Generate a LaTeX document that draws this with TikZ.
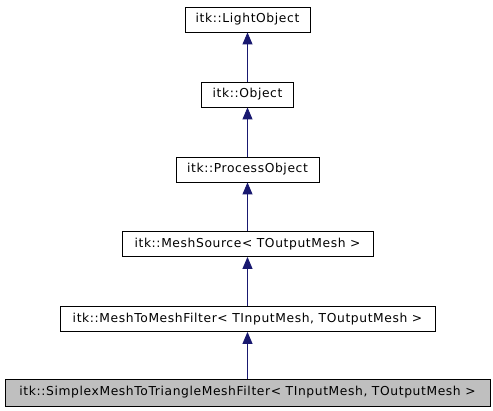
\documentclass[tikz,border=0pt]{standalone}
\usepackage{fontspec}
\setmainfont{DejaVu Sans}[LetterSpace=5]
\usetikzlibrary{arrows.meta}
\definecolor{edgeblue}{HTML}{191970}
\definecolor{hl}{HTML}{BFBFBF}
\begin{document}
\begin{tikzpicture}[x=1pt,y=-1pt,
  cls/.style={draw=black,line width=0.8pt,minimum height=25pt,inner sep=0pt,font=\fontsize{12.3}{14}\selectfont,anchor=center},
  inh/.style={draw=edgeblue,line width=0.9pt,-{Triangle[length=12pt,width=10pt,fill=edgeblue]}}]
\useasboundingbox (0,0) rectangle (493,411);
\fill[white] (0,0) rectangle (493,411);
\node[cls,minimum width=125pt] (light) at (247.5,19.5) {itk::LightObject};
\node[cls,minimum width=92pt] (obj) at (247.5,94.5) {itk::Object};
\node[cls,minimum width=143pt] (proc) at (247.5,169.5) {itk::ProcessObject};
\node[cls,minimum width=251pt] (src) at (247.5,244) {itk::MeshSource< TOutputMesh >};
\node[cls,minimum width=375pt] (m2m) at (247.5,319) {itk::MeshToMeshFilter< TInputMesh, TOutputMesh >};
\node[cls,fill=hl,minimum width=485pt,minimum height=27pt] (simp) at (247.5,392.5) {itk::SimplexMeshToTriangleMeshFilter< TInputMesh, TOutputMesh >};
\draw[inh] (obj.north) -- (light.south);
\draw[inh] (proc.north) -- (obj.south);
\draw[inh] (src.north) -- (proc.south);
\draw[inh] (m2m.north) -- (src.south);
\draw[inh] (simp.north) -- (m2m.south);
\end{tikzpicture}
\end{document}
